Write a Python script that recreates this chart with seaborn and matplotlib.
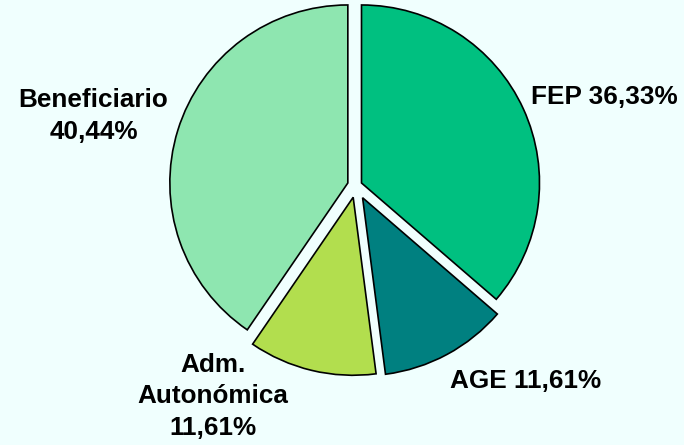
import matplotlib
matplotlib.use("Agg")
import matplotlib.pyplot as plt
import seaborn as sns

# -------------------------------------------------------------------
# datos
# -------------------------------------------------------------------
categorias = ["FEP", "AGE", "Adm.\nAutonómica", "Beneficiario"]
porcentajes = [36.33, 11.61, 11.61, 40.44]
etiquetas = ["FEP 36,33%", "AGE 11,61%", "Adm.\nAutonómica\n11,61%", "Beneficiario\n40,44%"]
colores = ["#00C080", "#008080", "#B2DE4E", "#8EE6B0"]

# layout (unidades = radio del pie, ~178 px)
explode = [0.034, 0.078, 0.068, 0.048]
pos_etiquetas = [(1.396, 0.50), (0.955, -1.101), (-0.803, -1.185), (-1.475, 0.390)]
fondo = "#F0FFFE"

sns.set_theme(style="white")
plt.rcParams["font.family"] = ["Liberation Sans", "DejaVu Sans"]

fig = plt.figure(figsize=(6.84, 4.45), dpi=100, facecolor=fondo)
ax = fig.add_axes([0, 0, 1, 1])
ax.set_facecolor(fondo)

ax.pie(
    porcentajes,
    colors=colores,
    explode=explode,
    startangle=90,
    counterclock=False,
    wedgeprops=dict(edgecolor="black", linewidth=1.2),
)

# centro del pie en (356, 185.5) px desde arriba
r = 178
ax.set_xlim(-356 / r, (684 - 356) / r)
ax.set_ylim(-(445 - 185.5) / r, 185.5 / r)
ax.set_aspect("equal")
ax.axis("off")

for txt, (x, y) in zip(etiquetas, pos_etiquetas):
    ax.text(x, y, txt, ha="center", va="center", fontsize=18.8,
            fontweight="bold", linespacing=1.4, color="black")

fig.savefig("out.png", dpi=100, facecolor=fondo)
